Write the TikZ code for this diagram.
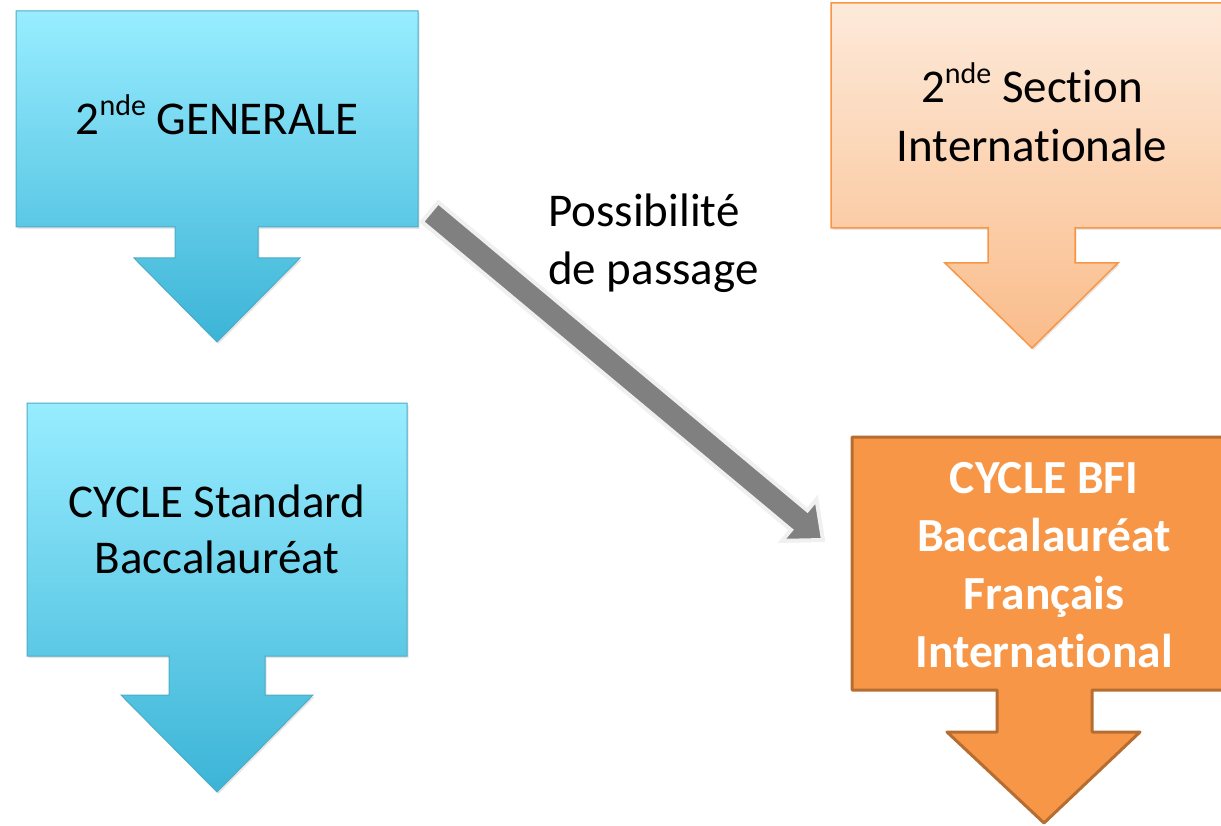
\documentclass[tikz,border=0pt]{standalone}
\usepackage{fontspec}
\setmainfont{Carlito}[Ligatures={NoCommon,NoContextual}, RawFeature={-liga;-clig;-calt;-dlig}]
\usetikzlibrary{calc,shadows}
\definecolor{cyantop}{RGB}{152,237,255}
\definecolor{cyanbot}{RGB}{60,180,215}
\definecolor{cyanline}{RGB}{75,172,198}
\definecolor{oratop}{RGB}{253,234,218}
\definecolor{orabot}{RGB}{250,188,138}
\definecolor{oraline}{RGB}{247,150,70}
\definecolor{orafill}{RGB}{247,150,70}
\definecolor{oradark}{RGB}{182,109,49}
\definecolor{passgray}{RGB}{128,128,128}
\definecolor{passedge}{RGB}{240,240,240}
\tikzset{
  bluebox/.style={draw=cyanline, line width=1pt, top color=cyantop, bottom color=cyanbot,
    drop shadow={opacity=0.2, shadow xshift=1.5pt, shadow yshift=-2pt}},
  orabox/.style={draw=oraline, line width=1.5pt, top color=oratop, bottom color=orabot,
    drop shadow={opacity=0.2, shadow xshift=1.5pt, shadow yshift=-2pt}},
  bfibox/.style={draw=oradark, line width=3pt, fill=orafill, line join=round},
  passarrow/.style={draw=passedge, line width=4pt, fill=passgray, line join=miter},
  boxtext/.style={font=\fontsize{47}{58}\selectfont, align=center, anchor=base, inner sep=0pt},
  bfitext/.style={font=\bfseries\fontsize{47.5}{58}\selectfont, align=center, anchor=base, inner sep=0pt, text=white},
}
\newcommand{\supnde}{\raisebox{0.42em}{\fontsize{30}{30}\selectfont nde}}
\begin{document}
\begin{tikzpicture}[x=1pt,y=-1pt]
\useasboundingbox (0,0) rectangle (1221,826);
\clip (0,0) rectangle (1221,826);
% box 1 : 2nde GENERALE
\path[bluebox] (16,11) -- (418,11) -- (418,227) -- (258,227) -- (258,258) -- (300,258) -- (217,342)
  -- (134,258) -- (175,258) -- (175,227) -- (16,227) -- cycle;
\node[boxtext] (gen) at (217,135) {2\supnde{} GENERALE};
% box 2 : CYCLE Standard
\path[bluebox] (27,403) -- (407,403) -- (407,656) -- (265,656) -- (265,695) -- (313,695) -- (217,792)
  -- (121,695) -- (169,695) -- (169,656) -- (27,656) -- cycle;
\node[boxtext] (std) at (217,573) {CYCLE Standard\\[-2pt]Baccalauréat};
% box 3 : 2nde Section Internationale
\path[orabox] (831,3) -- (1245,3) -- (1245,228) -- (1075,228) -- (1075,263) -- (1118,263) -- (1032,348)
  -- (945,263) -- (988,263) -- (988,228) -- (831,228) -- cycle;
\node[boxtext] (sec) at (1032,162) {2\supnde{} Section\\[1pt]Internationale};
% box 4 : CYCLE BFI
\path[bfibox] (852,437) -- (1245,437) -- (1245,690) -- (1092,690) -- (1092,732) -- (1140,732) -- (1044,823)
  -- (947,732) -- (997,732) -- (997,690) -- (852,690) -- cycle;
\node[bfitext] (bfi) at (1044,667) {CYCLE BFI\\Baccalauréat\\Français\\International};
% passage arrow
\coordinate (gs) at (430,212);
\coordinate (ge) at (823,540);
\coordinate (hb) at ($(ge)!31pt!(gs)$);
\path[passarrow] ($(gs)!12.8pt!90:(ge)$) -- ($(hb)!12.8pt!90:(ge)$)
  -- ($(hb)!27pt!90:(ge)$) -- (ge) -- ($(hb)!27pt!-90:(ge)$) -- ($(hb)!12.8pt!-90:(ge)$)
  -- ($(gs)!12.8pt!-90:(ge)$) -- cycle;
\node[font=\fontsize{47}{58}\selectfont, align=left, anchor=base west, inner sep=0pt] (pass) at (548,285)
  {Possibilité\\de passage};
\end{tikzpicture}
\end{document}
